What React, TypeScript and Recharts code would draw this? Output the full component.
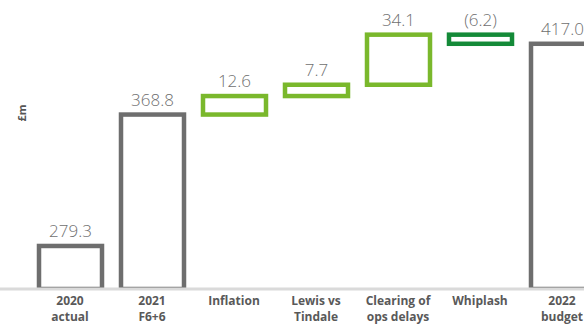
import React from 'react';
import { BarChart, Bar, XAxis, YAxis, LabelList } from 'recharts';

// categories, "|" splits the two tick lines
const categories = [
  '2020|actual',
  '2021|F6+6',
  'Inflation',
  'Lewis vs|Tindale',
  'Clearing of|ops delays',
  'Whiplash',
  '2022|budget',
];
const values = [279.3, 368.8, 12.6, 7.7, 34.1, -6.2, 417.0];
const kinds = ['total', 'total', 'up', 'up', 'up', 'down', 'total'];
const valueLabels = ['279.3', '368.8', '12.6', '7.7', '34.1', '(6.2)', '417.0'];

const AXIS_MIN = 250;
const AXIS_MAX = 440;

const colors: Record<string, string> = {
  total: '#6e6e6e',
  up: '#7ab82c',
  down: '#148a38',
};

let running = 0;
const data = categories.map((name, i) => {
  let range: [number, number];
  if (kinds[i] === 'total') {
    range = [AXIS_MIN, values[i]];
    running = values[i];
  } else {
    const next = running + values[i];
    range = [Math.min(running, next), Math.max(running, next)];
    running = next;
  }
  return { name, range, kind: kinds[i], label: valueLabels[i] };
});

const OutlineBar = (props: any) => {
  const { x, y, width, height, payload } = props;
  return (
    <rect
      x={x}
      y={y}
      width={width}
      height={Math.abs(height)}
      fill="#fff"
      stroke={colors[payload.kind]}
      strokeWidth={4.5}
    />
  );
};

const CategoryTick = (props: any) => {
  const { x, y, payload } = props;
  const lines = String(payload.value).split('|');
  return (
    <text
      x={x}
      y={y}
      textAnchor="middle"
      fill="#595959"
      fontSize={12}
      fontWeight={700}
      fontFamily="'Open Sans', sans-serif"
    >
      {lines.map((l, i) => (
        <tspan key={i} x={x} dy={i === 0 ? 14 : 16}>
          {l}
        </tspan>
      ))}
    </text>
  );
};

export default function App() {
  return (
    <div
      style={{
        position: 'absolute',
        left: 0,
        top: 0,
        width: 584,
        height: 325,
        overflow: 'hidden',
        background: '#fff',
      }}
    >
      <div
        style={{
          position: 'absolute',
          left: 7,
          top: 105,
          width: 30,
          lineHeight: '16px',
          textAlign: 'center',
          transform: 'rotate(-90deg)',
          fontFamily: "'Open Sans', sans-serif",
          fontWeight: 700,
          fontSize: 11,
          color: '#555',
        }}
      >
        £m
      </div>
      <BarChart
        width={620}
        height={325}
        data={data}
        margin={{ top: 10, right: 17, left: 0, bottom: 0 }}
      >
        <XAxis
          dataKey="name"
          padding={{ left: 29, right: 0 }}
          axisLine={{ stroke: '#dadada', strokeWidth: 3 }}
          tickLine={false}
          tickSize={0}
          tickMargin={2}
          height={36}
          interval={0}
          tick={<CategoryTick />}
        />
        <YAxis hide domain={[AXIS_MIN, AXIS_MAX]} allowDataOverflow />
        <Bar dataKey="range" barSize={63} shape={<OutlineBar />} isAnimationActive={false}>
          <LabelList
            dataKey="label"
            position="top"
            offset={9}
            fill="#6f6f6f"
            fontSize={17}
            fontWeight={300}
            fontFamily="'Open Sans', sans-serif"
          />
        </Bar>
      </BarChart>
    </div>
  );
}
